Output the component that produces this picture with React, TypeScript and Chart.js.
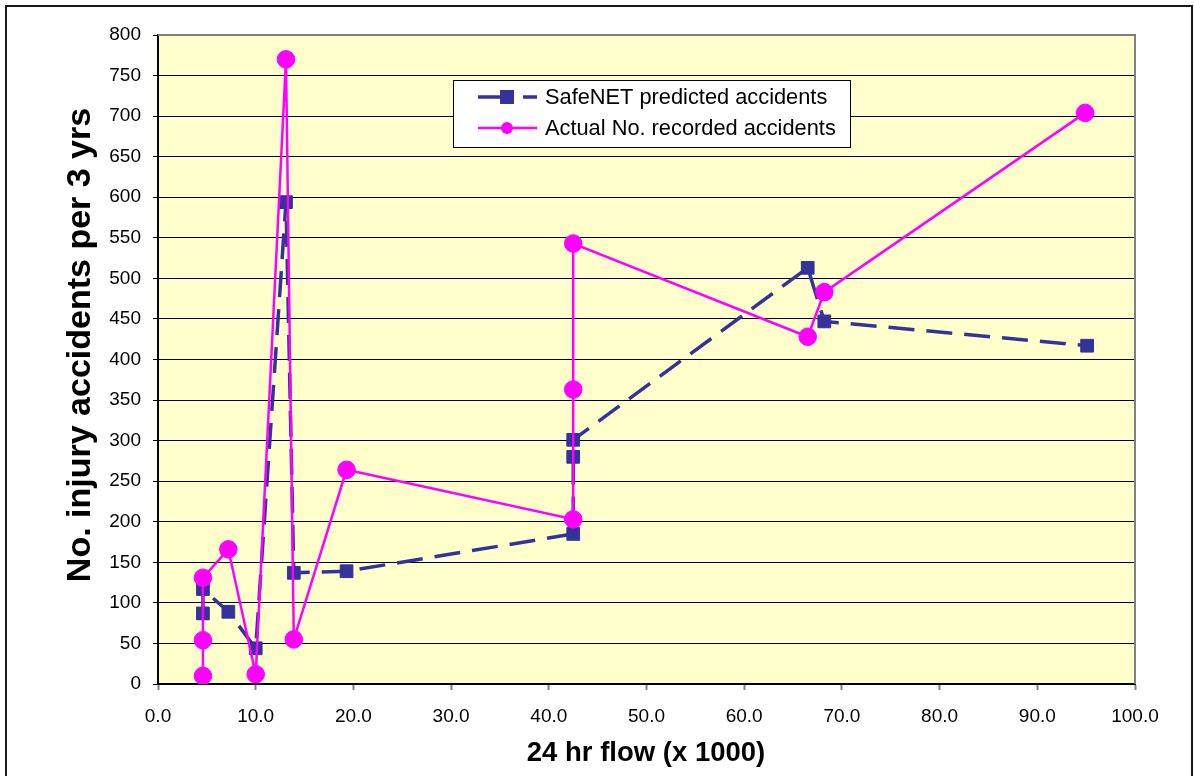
import React, { useEffect, useRef } from "react";
import { Chart, registerables } from "chart.js";

Chart.register(...registerables);

// SafeNET predicted accidents (x = 24 hr flow in thousands, y = accidents per 3 yrs)
const predictedX = [4.6, 4.6, 7.2, 10.0, 13.1, 13.9, 19.3, 42.5, 42.5, 42.5, 66.5, 68.2, 95.1];
const predictedY = [87, 117, 89, 44, 594, 137, 139, 185, 280, 301, 513, 447, 417];

// Actual No. recorded accidents
const actualX = [4.6, 4.6, 4.6, 7.2, 10.0, 13.1, 13.9, 19.3, 42.5, 42.5, 42.5, 66.5, 68.2, 94.9];
const actualY = [10, 54, 131, 166, 12, 770, 55, 264, 203, 363, 543, 428, 483, 704];

const seriesNames = ["SafeNET predicted accidents", "Actual No. recorded accidents"];
const xTitle = "24 hr flow (x 1000)";
const yTitle = "No. injury accidents per 3 yrs";

const FONT = '"Liberation Sans", Arial, sans-serif';
const BLUE = "#333399";
const PINK = "#FF00FF";

const decorPlugin = {
  id: "decor",
  beforeDraw(chart: any) {
    const { ctx, chartArea: a } = chart;
    ctx.save();
    ctx.fillStyle = "#ffffff";
    ctx.fillRect(0, 0, chart.width, chart.height);
    ctx.fillStyle = "#FFFFCC";
    ctx.fillRect(a.left, a.top, a.right - a.left, a.bottom - a.top);
    ctx.strokeStyle = "#1a1a1a";
    ctx.lineWidth = 2;
    ctx.strokeRect(6, 6, 1186, 800);
    ctx.restore();
  },
  beforeDatasetsDraw(chart: any) {
    const { ctx, chartArea: a } = chart;
    ctx.save();
    ctx.strokeStyle = "#808080";
    ctx.lineWidth = 2;
    ctx.beginPath();
    ctx.moveTo(a.left, a.top);
    ctx.lineTo(a.right, a.top);
    ctx.lineTo(a.right, a.bottom);
    ctx.stroke();
    ctx.restore();
  },
  afterDraw(chart: any) {
    const { ctx } = chart;
    ctx.save();
    // Legend box
    const lx = 453, ly = 80, lw = 397, lh = 67;
    ctx.fillStyle = "#ffffff";
    ctx.fillRect(lx, ly, lw, lh);
    ctx.strokeStyle = "#000000";
    ctx.lineWidth = 1;
    ctx.strokeRect(lx + 0.5, ly + 0.5, lw, lh);

    // Entry 1: blue dashed line with square
    const y1 = 97, y2 = 128;
    ctx.strokeStyle = BLUE;
    ctx.lineWidth = 3.5;
    ctx.beginPath();
    ctx.moveTo(478, y1);
    ctx.lineTo(505, y1);
    ctx.moveTo(523, y1);
    ctx.lineTo(537, y1);
    ctx.stroke();
    ctx.fillStyle = BLUE;
    ctx.fillRect(500, y1 - 7, 14, 14);

    // Entry 2: pink line with circle
    ctx.strokeStyle = PINK;
    ctx.lineWidth = 2.5;
    ctx.beginPath();
    ctx.moveTo(478, y2);
    ctx.lineTo(537, y2);
    ctx.stroke();
    ctx.fillStyle = PINK;
    ctx.beginPath();
    ctx.arc(507, y2, 6, 0, Math.PI * 2);
    ctx.fill();

    ctx.fillStyle = "#000000";
    ctx.font = `21.8px ${FONT}`;
    ctx.textAlign = "left";
    ctx.textBaseline = "middle";
    ctx.fillText(seriesNames[0], 545, y1 + 1);
    ctx.fillText(seriesNames[1], 545, y2 + 1);

    // Axis titles
    ctx.font = `bold 27.5px ${FONT}`;
    ctx.textAlign = "center";
    ctx.textBaseline = "middle";
    ctx.fillText(xTitle, 646, 753);

    ctx.translate(81, 345);
    ctx.rotate(-Math.PI / 2);
    ctx.font = `bold 34px ${FONT}`;
    ctx.fillText(yTitle, 0, 0);
    ctx.restore();
  },
};

export default function App() {
  const canvasRef = useRef<HTMLCanvasElement | null>(null);

  useEffect(() => {
    const canvas = canvasRef.current;
    if (!canvas) return;
    const predicted = predictedX.map((x, i) => ({ x, y: predictedY[i] }));
    const actual = actualX.map((x, i) => ({ x, y: actualY[i] }));

    const chart = new Chart(canvas, {
      type: "scatter",
      data: {
        datasets: [
          {
            label: seriesNames[0],
            data: predicted,
            showLine: true,
            borderColor: BLUE,
            backgroundColor: BLUE,
            borderWidth: 3.5,
            borderDash: [26, 12],
            pointStyle: "rect",
            pointRadius: 9,
            pointBorderWidth: 1,
            pointBorderColor: BLUE,
            pointBackgroundColor: BLUE,
            tension: 0,
            order: 1,
          },
          {
            label: seriesNames[1],
            data: actual,
            showLine: true,
            borderColor: PINK,
            backgroundColor: PINK,
            borderWidth: 2.5,
            pointStyle: "circle",
            pointRadius: 8.8,
            pointBorderWidth: 1,
            pointBorderColor: PINK,
            pointBackgroundColor: PINK,
            tension: 0,
            order: 0,
          },
        ],
      },
      options: {
        animation: false,
        responsive: false,
        devicePixelRatio: 1,
        layout: { padding: { left: 0, top: 35, right: 59, bottom: 0 } },
        plugins: {
          legend: { display: false },
          tooltip: { enabled: false },
          title: { display: false },
        },
        scales: {
          x: {
            type: "linear",
            min: 0,
            max: 100,
            afterFit(s: any) {
              s.height = 776 - 684;
            },
            ticks: {
              stepSize: 10,
              color: "#000",
              font: { family: FONT, size: 19 },
              padding: 15,
              maxRotation: 0,
              callback: (v: any) => Number(v).toFixed(1),
            },
            grid: {
              drawOnChartArea: false,
              drawTicks: true,
              tickLength: 6,
              tickColor: "#808080",
              tickWidth: 2,
            },
            border: { color: "#000", width: 2 },
          },
          y: {
            type: "linear",
            min: 0,
            max: 800,
            afterFit(s: any) {
              s.width = 158;
            },
            ticks: {
              stepSize: 50,
              color: "#000",
              font: { family: FONT, size: 19 },
              padding: 12,
            },
            grid: {
              color: "#000",
              lineWidth: 1,
              tickLength: 5,
              tickColor: "#000",
            },
            border: { color: "#000", width: 2 },
          },
        },
      },
      plugins: [decorPlugin],
    } as any);

    return () => chart.destroy();
  }, []);

  return (
    <div style={{ position: "fixed", left: 0, top: 0, width: 1194, height: 776, background: "#fff" }}>
      <canvas ref={canvasRef} width={1194} height={776} style={{ display: "block" }} />
    </div>
  );
}
